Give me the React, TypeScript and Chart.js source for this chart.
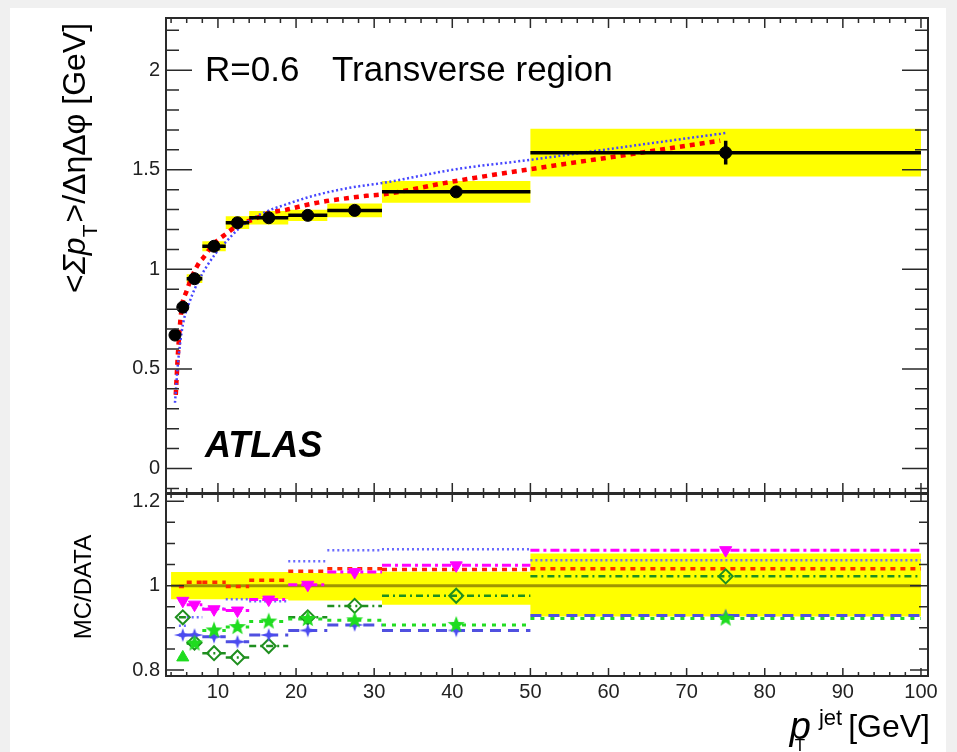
import React, { useEffect, useRef } from "react";
import { Chart, registerables } from "chart.js";
Chart.register(...registerables);

// ---------------- data ----------------
const binLo = [4, 5, 6, 8, 11, 14, 19, 24, 31, 50];
const binHi = [5, 6, 8, 11, 14, 19, 24, 31, 50, 100];
const binCenter = [4.5, 5.5, 7, 9.5, 12.5, 16.5, 21.5, 27.5, 40.5, 75];

const dataValues = [0.67, 0.81, 0.953, 1.116, 1.234, 1.259, 1.271, 1.296, 1.389, 1.586];
const dataStatErr = [0.012, 0.012, 0.012, 0.012, 0.012, 0.012, 0.014, 0.014, 0.016, 0.06];
const dataSysErr = [0.015, 0.018, 0.022, 0.025, 0.032, 0.034, 0.028, 0.034, 0.055, 0.12];

const redCurveX = [4.6, 4.9, 5.34, 5.98, 6.6, 7.7, 8.1, 9.4, 11.1, 12.8, 14.5, 16.6, 18.8, 21.3, 23.9, 26.5, 29, 31.2, 40.5, 50, 63.2, 74.3];
const redCurveY = [0.37, 0.59, 0.8, 0.89, 0.956, 1.04, 1.057, 1.125, 1.18, 1.226, 1.25, 1.284, 1.3, 1.323, 1.343, 1.357, 1.369, 1.377, 1.444, 1.503, 1.58, 1.646];
const blueCurveX = [4.5, 4.9, 5.5, 6.4, 7.7, 9.6, 11.1, 12.8, 15.4, 18.8, 22.2, 26.5, 31.4, 40.5, 50, 63.2, 75.1];
const blueCurveY = [0.33, 0.535, 0.72, 0.84, 0.956, 1.074, 1.141, 1.209, 1.276, 1.327, 1.369, 1.407, 1.436, 1.503, 1.55, 1.621, 1.685];

const ratioBandUp = [0.032, 0.032, 0.032, 0.032, 0.032, 0.032, 0.03, 0.03, 0.033, 0.076];
const ratioBandDown = [0.032, 0.032, 0.032, 0.032, 0.032, 0.032, 0.035, 0.035, 0.045, 0.073];

const ratioMagenta = [null, 0.964, 0.955, 0.944, 0.941, 0.967, 1.002, 1.032, 1.048, 1.084];
const ratioRed = [null, 0.998, 1.008, 1.008, 0.998, 1.013, 1.034, 1.04, 1.038, 1.04];
const ratioBlueDotted = [null, 0.905, 0.925, 0.945, 0.968, 0.963, 1.058, 1.084, 1.086, 1.06];
const ratioDarkGreen = [null, 0.925, 0.865, 0.84, 0.83, 0.857, 0.925, 0.952, 0.976, 1.022];
const ratioBlueDashed = [null, 0.883, 0.883, 0.879, 0.867, 0.883, 0.894, 0.907, 0.894, 0.929];
const ratioBrightGreen = [null, 0.83, 0.863, 0.894, 0.902, 0.915, 0.921, 0.918, 0.907, 0.922];

const xTickValues = [10, 20, 30, 40, 50, 60, 70, 80, 90, 100];
const yTopTickValues = [0, 0.5, 1, 1.5, 2];
const yRatioTickValues = [0.8, 1, 1.2];

// ---------------- helpers ----------------
const FONT = "'Liberation Sans', Arial, Helvetica, sans-serif";
const X_MIN = 3.35;
const X_MAX = 100.9;
const TOP_HEIGHT = 500;
const BOTTOM_TOP = 475; // page offset of lower canvas

type P = { x: number; y: number | null };

function stepSegments(vals: (number | null)[]): P[] {
  const pts: P[] = [];
  vals.forEach((v, i) => {
    if (v == null) return;
    pts.push({ x: binLo[i], y: v }, { x: binHi[i], y: v }, { x: binHi[i], y: null });
  });
  return pts;
}
function centerPoints(vals: (number | null)[]): P[] {
  const pts: P[] = [];
  vals.forEach((v, i) => {
    if (v == null) return;
    pts.push({ x: binCenter[i], y: v });
  });
  return pts;
}
function bandEdge(vals: number[], off: number[], sign: number): P[] {
  const pts: P[] = vals.map((v, i) => ({ x: binLo[i], y: v + sign * off[i] }));
  const n = vals.length - 1;
  pts.push({ x: binHi[n], y: vals[n] + sign * off[n] });
  return pts;
}
function errorBars(vals: number[], err: number[]): P[] {
  const pts: P[] = [];
  vals.forEach((v, i) => {
    pts.push({ x: binCenter[i], y: v - err[i] }, { x: binCenter[i], y: v + err[i] }, { x: binCenter[i], y: null });
  });
  return pts;
}
function curve(xs: number[], ys: number[]): P[] {
  return xs.map((x, i) => ({ x, y: ys[i] }));
}

function makeStar(n: number, rx: number, ry: number, rIn: number, color: string) {
  const size = Math.ceil(Math.max(rx, ry) * 2 + 2);
  const c = document.createElement("canvas");
  c.width = size;
  c.height = size;
  const g = c.getContext("2d")!;
  g.translate(size / 2, size / 2);
  g.beginPath();
  for (let i = 0; i < 2 * n; i++) {
    const ang = -Math.PI / 2 + (i * Math.PI) / n;
    const ox = i % 2 === 0 ? rx : rIn;
    const oy = i % 2 === 0 ? ry : rIn;
    const px = Math.cos(ang) * ox;
    const py = Math.sin(ang) * oy;
    if (i === 0) g.moveTo(px, py);
    else g.lineTo(px, py);
  }
  g.closePath();
  g.fillStyle = color;
  g.fill();
  return c;
}

function isMultiple(v: number, step: number) {
  const r = v / step;
  return Math.abs(r - Math.round(r)) < 1e-6;
}

type FrameCfg = {
  yMinorStart: number;
  yMinorEnd: number;
  yMinorStep: number;
  yMajorStep: number;
  yMajorLen: number;
  yMinorLen: number;
  xMajorLen: number;
  xMinorLen: number;
};

function framePlugin(cfg: FrameCfg) {
  return {
    id: "frameTicks",
    afterDatasetsDraw(chart: any) {
      const { ctx, chartArea: a } = chart;
      const xs = chart.scales.x;
      const ys = chart.scales.y;
      ctx.save();
      ctx.strokeStyle = "#2a2a2a";
      ctx.lineWidth = 1.5;
      ctx.beginPath();
      for (let v = 4; v <= 100 + 1e-9; v += 2) {
        const p = xs.getPixelForValue(v);
        const len = isMultiple(v, 10) ? cfg.xMajorLen : cfg.xMinorLen;
        ctx.moveTo(p, a.bottom);
        ctx.lineTo(p, a.bottom - len);
        ctx.moveTo(p, a.top);
        ctx.lineTo(p, a.top + len);
      }
      const nSteps = Math.round((cfg.yMinorEnd - cfg.yMinorStart) / cfg.yMinorStep);
      for (let k = 0; k <= nSteps; k++) {
        const v = cfg.yMinorStart + k * cfg.yMinorStep;
        const p = ys.getPixelForValue(v);
        const len = isMultiple(v, cfg.yMajorStep) ? cfg.yMajorLen : cfg.yMinorLen;
        ctx.moveTo(a.left, p);
        ctx.lineTo(a.left + len, p);
        ctx.moveTo(a.right, p);
        ctx.lineTo(a.right - len, p);
      }
      ctx.stroke();
      ctx.lineWidth = 2;
      ctx.strokeRect(a.left, a.top, a.right - a.left, a.bottom - a.top);
      ctx.restore();
    },
  };
}

const topTextPlugin = {
  id: "topText",
  afterDraw(chart: any) {
    const ctx = chart.ctx;
    ctx.save();
    ctx.fillStyle = "#000";
    ctx.textBaseline = "alphabetic";
    ctx.font = `35px ${FONT}`;
    ctx.fillText("R=0.6", 205, 81);
    ctx.fillText("Transverse region", 332, 81);
    ctx.font = `italic bold 36px ${FONT}`;
    ctx.fillText("ATLAS", 205, 457);

    // rotated y title
    ctx.translate(85, 293);
    ctx.rotate(-Math.PI / 2);
    let x = 0;
    const main = `32px ${FONT}`;
    const ital = `italic 32px ${FONT}`;
    const sub = `21px ${FONT}`;
    const pieces: [string, string, number][] = [
      ["<", main, 0],
      ["Σ", ital, 0],
      ["p", ital, 0],
      ["T", sub, 12],
      [">", main, 0],
      ["/ΔηΔφ [GeV]", main, 0],
    ];
    for (const [t, f, dy] of pieces) {
      ctx.font = f;
      ctx.fillText(t, x, dy);
      x += ctx.measureText(t).width + (dy ? 2 : 0);
    }
    ctx.restore();
  },
};

const bottomTextPlugin = {
  id: "bottomText",
  afterDraw(chart: any) {
    const ctx = chart.ctx;
    const top = BOTTOM_TOP;
    ctx.save();
    ctx.fillStyle = "#000";
    // MC/DATA
    ctx.save();
    ctx.translate(91, 587 - top);
    ctx.rotate(-Math.PI / 2);
    ctx.font = `24px ${FONT}`;
    ctx.textAlign = "center";
    ctx.fillText("MC/DATA", 0, 0);
    ctx.restore();

    // x title: p_T^jet [GeV]
    const base = 737 - top;
    ctx.font = `32px ${FONT}`;
    const wG = ctx.measureText("[GeV]").width;
    const xG = 930 - wG;
    ctx.fillText("[GeV]", xG, base);
    ctx.font = `22px ${FONT}`;
    const wJet = ctx.measureText("jet").width;
    const xJet = xG - 6 - wJet;
    ctx.fillText("jet", xJet, base - 12);
    ctx.font = `italic 38px ${FONT}`;
    const wP = ctx.measureText("p").width;
    const xP = xJet - wP - 8;
    ctx.fillText("p", xP, base + 2);
    ctx.font = `17px ${FONT}`;
    ctx.fillText("T", xP + 5, 751 - top);
    ctx.restore();
  },
};

function xScale(show: boolean) {
  const s: any = {
    type: "linear" as const,
    min: X_MIN,
    max: X_MAX,
    display: show,
    afterBuildTicks: (sc: any) => {
      sc.ticks = xTickValues.map((v) => ({ value: v }));
    },
    grid: { display: false, drawTicks: false },
    border: { display: false },
    ticks: {
      color: "#222",
      font: { family: FONT, size: 20 },
      padding: 4,
      maxRotation: 0,
      autoSkip: false,
      callback: (v: any) => String(v),
    },
  };
  s.afterFit = (sc: any) => {
    sc.height = show ? 30 : 0;
    sc.paddingLeft = 0;
    sc.paddingRight = 0;
  };
  return s;
}

function yScale(min: number, max: number, tickVals: number[]) {
  return {
    type: "linear" as const,
    min,
    max,
    afterBuildTicks: (s: any) => {
      s.ticks = tickVals.map((v) => ({ value: v }));
    },
    afterFit: (s: any) => {
      s.width = 100;
      s.paddingTop = 0;
      s.paddingBottom = 0;
    },
    grid: { display: false, drawTicks: false },
    border: { display: false },
    ticks: {
      color: "#222",
      font: { family: FONT, size: 20 },
      padding: 6,
      autoSkip: false,
      callback: (v: any) => String(Math.round(v * 100) / 100),
    },
  };
}

export default function App() {
  const topRef = useRef<HTMLCanvasElement | null>(null);
  const botRef = useRef<HTMLCanvasElement | null>(null);

  useEffect(() => {
    const blueStar = makeStar(4, 9, 7, 2.6, "#4b4bf0");
    const greenStar = makeStar(5, 9, 9, 3.8, "#1fdc1f");

    const common = {
      responsive: false,
      animation: false as const,
      devicePixelRatio: 1,
      events: [] as any[],
      plugins: { legend: { display: false }, tooltip: { enabled: false }, title: { display: false } },
    };

    const top = new Chart(topRef.current!, {
      type: "line",
      data: {
        datasets: [
          {
            data: bandEdge(dataValues, dataSysErr, 1),
            stepped: "before",
            fill: "+1",
            backgroundColor: "#ffff00",
            borderColor: "rgba(0,0,0,0)",
            borderWidth: 0,
            pointRadius: 0,
            order: 10,
          },
          {
            data: bandEdge(dataValues, dataSysErr, -1),
            stepped: "before",
            fill: false,
            borderColor: "rgba(0,0,0,0)",
            borderWidth: 0,
            pointRadius: 0,
            order: 10,
          },
          {
            data: curve(redCurveX, redCurveY),
            borderColor: "#ff0000",
            borderWidth: 4.5,
            borderDash: [5, 5],
            cubicInterpolationMode: "monotone",
            pointRadius: 0,
            fill: false,
            order: 5,
          },
          {
            data: curve(blueCurveX, blueCurveY),
            borderColor: "#4646ff",
            borderWidth: 2.5,
            borderDash: [2, 2.5],
            cubicInterpolationMode: "monotone",
            pointRadius: 0,
            fill: false,
            order: 4,
          },
          {
            data: stepSegments(dataValues),
            borderColor: "#000",
            borderWidth: 3.5,
            spanGaps: false,
            pointRadius: 0,
            fill: false,
            order: 2,
          },
          {
            data: errorBars(dataValues, dataStatErr),
            borderColor: "#000",
            borderWidth: 3.5,
            spanGaps: false,
            pointRadius: 0,
            fill: false,
            order: 2,
          },
          {
            data: centerPoints(dataValues),
            showLine: false,
            pointRadius: 6,
            pointStyle: "circle",
            pointBackgroundColor: "#000",
            pointBorderColor: "#000",
            order: 1,
          },
        ],
      },
      options: {
        ...common,
        layout: { padding: { left: 66, right: 29, top: 18, bottom: 2 } },
        scales: {
          x: xScale(false),
          y: yScale(-0.123, 2.262, yTopTickValues),
        },
      } as any,
      plugins: [
        framePlugin({
          yMinorStart: -0.1,
          yMinorEnd: 2.2,
          yMinorStep: 0.1,
          yMajorStep: 0.5,
          yMajorLen: 26,
          yMinorLen: 13,
          xMajorLen: 10,
          xMinorLen: 5,
        }),
        topTextPlugin,
      ],
    } as any);

    const lineDs = (vals: (number | null)[], color: string, width: number, dash: number[], order: number) => ({
      data: stepSegments(vals),
      borderColor: color,
      borderWidth: width,
      borderDash: dash,
      spanGaps: false,
      pointRadius: 0,
      fill: false,
      order,
    });
    const markerDs = (vals: (number | null)[], style: any, opts: any, order: number) => ({
      data: centerPoints(vals),
      showLine: false,
      pointStyle: style,
      order,
      ...opts,
    });

    const bottom = new Chart(botRef.current!, {
      type: "line",
      data: {
        datasets: [
          {
            data: bandEdge([1, 1, 1, 1, 1, 1, 1, 1, 1, 1], ratioBandUp, 1),
            stepped: "before",
            fill: "+1",
            backgroundColor: "#ffff00",
            borderColor: "rgba(0,0,0,0)",
            borderWidth: 0,
            pointRadius: 0,
            order: 20,
          },
          {
            data: bandEdge([1, 1, 1, 1, 1, 1, 1, 1, 1, 1], ratioBandDown, -1),
            stepped: "before",
            fill: false,
            borderColor: "rgba(0,0,0,0)",
            borderWidth: 0,
            pointRadius: 0,
            order: 20,
          },
          {
            data: [
              { x: binLo[0], y: 1 },
              { x: binHi[binHi.length - 1], y: 1 },
            ],
            borderColor: "#a09600",
            borderWidth: 3,
            pointRadius: 0,
            fill: false,
            order: 19,
          },
          lineDs(ratioBlueDotted, "#6a6aff", 2.5, [2, 3], 12),
          lineDs(ratioRed, "#ff2a00", 3.5, [5, 5], 11),
          lineDs(ratioMagenta, "#ff00ff", 3, [9, 4, 3, 4], 10),
          lineDs(ratioDarkGreen, "#1f8f1f", 2.5, [7, 4, 2, 4], 9),
          lineDs(ratioBlueDashed, "#5050e0", 3, [11, 7], 8),
          lineDs(ratioBrightGreen, "#22dd22", 3, [4, 6], 7),
          markerDs(ratioDarkGreen, "rectRot", { pointRadius: 7, pointBorderColor: "#1f8f1f", pointBackgroundColor: "rgba(0,0,0,0)", pointBorderWidth: 2 }, 4),
          markerDs(ratioBlueDashed, blueStar, { pointRadius: 8 }, 3),
          markerDs(
            ratioBrightGreen,
            ratioBrightGreen.filter((v) => v != null).map((_, i) => (i === 0 ? "triangle" : greenStar)),
            { pointRadius: 7, pointBackgroundColor: "#1fdc1f", pointBorderColor: "#1fdc1f" },
            2
          ),
          markerDs(ratioMagenta, "triangle", { pointRadius: 7, pointRotation: 180, pointBackgroundColor: "#ff00ff", pointBorderColor: "#ff00ff" }, 1),
        ],
      },
      options: {
        ...common,
        layout: { padding: { left: 66, right: 29, top: 19, bottom: 46 } },
        scales: {
          x: xScale(true),
          y: yScale(0.786, 1.217, yRatioTickValues),
        },
      } as any,
      plugins: [
        framePlugin({
          yMinorStart: 0.8,
          yMinorEnd: 1.2,
          yMinorStep: 0.05,
          yMajorStep: 0.2,
          yMajorLen: 18,
          yMinorLen: 9,
          xMajorLen: 8,
          xMinorLen: 4,
        }),
        bottomTextPlugin,
      ],
    } as any);

    return () => {
      top.destroy();
      bottom.destroy();
    };
  }, []);

  return (
    <div style={{ position: "fixed", left: 0, top: 0, width: 957, height: 752, background: "#f0f0f0", overflow: "hidden" }}>
      <div style={{ position: "absolute", left: 10, top: 8, width: 936, height: 744, background: "#ffffff" }} />
      <canvas ref={topRef} width={957} height={TOP_HEIGHT} style={{ position: "absolute", left: 0, top: 0, width: 957, height: TOP_HEIGHT }} />
      <canvas ref={botRef} width={957} height={752 - BOTTOM_TOP} style={{ position: "absolute", left: 0, top: BOTTOM_TOP, width: 957, height: 752 - BOTTOM_TOP }} />
    </div>
  );
}
